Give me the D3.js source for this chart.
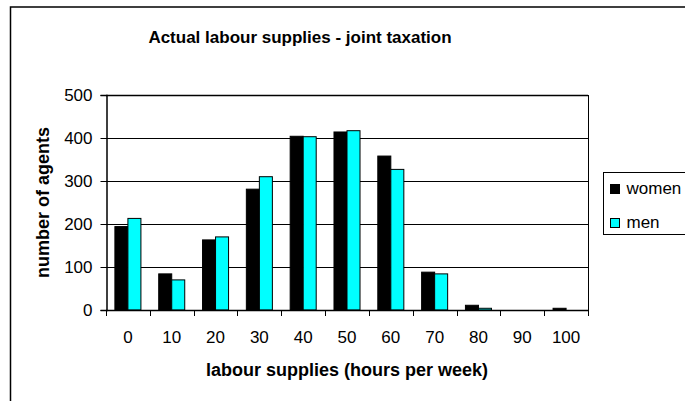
<!DOCTYPE html>
<html>
<head>
<meta charset="utf-8">
<script src="https://cdn.jsdelivr.net/npm/d3@7"></script>
<style>
  html, body { margin: 0; padding: 0; background: #fff; }
  svg { display: block; font-family: Arial, "Liberation Sans", sans-serif; }
</style>
</head>
<body>
<svg id="chart" width="685" height="401"></svg>
<script>
// Weekly hours categories and number of agents per group
const hours = ["0", "10", "20", "30", "40", "50", "60", "70", "80", "90", "100"];
const women = [194, 84, 163, 281, 404, 414, 358, 88, 11, 0, 4];
const men   = [213, 70, 170, 310, 403, 417, 327, 84, 4, 0, 0];
const yTicks = [0, 100, 200, 300, 400, 500];
const seriesNames = ["women", "men"];
const seriesColors = ["#000000", "#00FFFF"];

const svg = d3.select("#chart");

// Outer chart frame (runs off the right and bottom edges)
svg.append("rect")
  .attr("x", 10.5).attr("y", 7).attr("width", 700).attr("height", 420)
  .attr("fill", "#fff").attr("stroke", "#000").attr("stroke-width", 1.5);

const plot = { left: 106, right: 588, top: 95, bottom: 310 };

const x = d3.scaleBand()
  .domain(hours)
  .range([plot.left, plot.right])
  .paddingInner(0.406)
  .paddingOuter(0.203);

const xInner = d3.scaleBand()
  .domain(seriesNames)
  .range([0, x.bandwidth()]);

const y = d3.scaleLinear()
  .domain([0, 500])
  .range([plot.bottom, plot.top]);

// Horizontal gridlines
svg.append("g")
  .selectAll("line")
  .data(yTicks.filter(d => d > 0))
  .join("line")
  .attr("x1", plot.left).attr("x2", plot.right)
  .attr("y1", d => Math.round(y(d)) + 0.5)
  .attr("y2", d => Math.round(y(d)) + 0.5)
  .attr("stroke", "#000").attr("stroke-width", d => d === 500 ? 1.5 : 1);

// Right edge of the plot area
svg.append("line")
  .attr("x1", plot.right + 0.5).attr("x2", plot.right + 0.5)
  .attr("y1", plot.top).attr("y2", plot.bottom)
  .attr("stroke", "#000").attr("stroke-width", 1);

// Bars
const groups = svg.append("g")
  .selectAll("g")
  .data(hours.map((h, i) => ({ h, vals: [women[i], men[i]] })))
  .join("g")
  .attr("transform", d => `translate(${x(d.h)},0)`);

groups.selectAll("rect")
  .data(d => d.vals.map((v, j) => ({ v, s: seriesNames[j], c: seriesColors[j] })))
  .join("rect")
  .filter(d => d.v > 0)
  .attr("x", d => xInner(d.s))
  .attr("y", d => y(d.v))
  .attr("width", xInner.bandwidth())
  .attr("height", d => plot.bottom - y(d.v))
  .attr("fill", d => d.c)
  .attr("stroke", "#000")
  .attr("stroke-width", 1);

// Y axis
const yAxis = svg.append("g")
  .attr("transform", `translate(${plot.left + 0.5},0)`)
  .call(d3.axisLeft(y).tickValues(yTicks).tickSize(6).tickPadding(8));
yAxis.select(".domain").attr("stroke", "#000").attr("stroke-width", 1.5);
yAxis.selectAll(".tick line").attr("stroke", "#000");
yAxis.selectAll(".tick text")
  .attr("font-size", 17).attr("fill", "#000")
  .attr("font-family", "Arial, 'Liberation Sans', sans-serif");

// X axis: ticks sit on the category boundaries, labels at category centres
const xAxisG = svg.append("g");
xAxisG.append("line")
  .attr("x1", plot.left).attr("x2", plot.right)
  .attr("y1", plot.bottom + 0.5).attr("y2", plot.bottom + 0.5)
  .attr("stroke", "#000").attr("stroke-width", 1.5);
const boundaries = hours.map(h => x(h) - x.step() * x.paddingInner() / 2).concat([plot.right]);
xAxisG.selectAll(".xt")
  .data(boundaries)
  .join("line")
  .attr("class", "xt")
  .attr("x1", d => Math.round(d) + 0.5).attr("x2", d => Math.round(d) + 0.5)
  .attr("y1", plot.bottom).attr("y2", plot.bottom + 6)
  .attr("stroke", "#000");
xAxisG.selectAll(".xl")
  .data(hours)
  .join("text")
  .attr("class", "xl")
  .attr("x", d => x(d) + x.bandwidth() / 2)
  .attr("y", 343)
  .attr("text-anchor", "middle")
  .attr("font-size", 17)
  .text(d => d);

// Titles
svg.append("text")
  .attr("x", 300).attr("y", 43)
  .attr("text-anchor", "middle")
  .attr("font-size", 17).attr("font-weight", "bold")
  .text("Actual labour supplies - joint taxation");

svg.append("text")
  .attr("x", (plot.left + plot.right) / 2).attr("y", 376)
  .attr("text-anchor", "middle")
  .attr("font-size", 18).attr("font-weight", "bold")
  .text("labour supplies (hours per week)");

svg.append("text")
  .attr("transform", `translate(49,${(plot.top + plot.bottom) / 2}) rotate(-90)`)
  .attr("text-anchor", "middle")
  .attr("font-size", 18).attr("font-weight", "bold")
  .text("number of agents");

// Legend
const legend = svg.append("g").attr("transform", "translate(603.5,172.5)");
legend.append("rect")
  .attr("width", 120).attr("height", 62)
  .attr("fill", "#fff").attr("stroke", "#000").attr("stroke-width", 1);
seriesNames.forEach((name, i) => {
  legend.append("rect")
    .attr("x", 7).attr("y", 12 + i * 34)
    .attr("width", 9).attr("height", 9)
    .attr("fill", seriesColors[i]).attr("stroke", "#000").attr("stroke-width", 1);
  legend.append("text")
    .attr("x", 23).attr("y", 21.5 + i * 34)
    .attr("font-size", 17)
    .text(name);
});
</script>
</body>
</html>
